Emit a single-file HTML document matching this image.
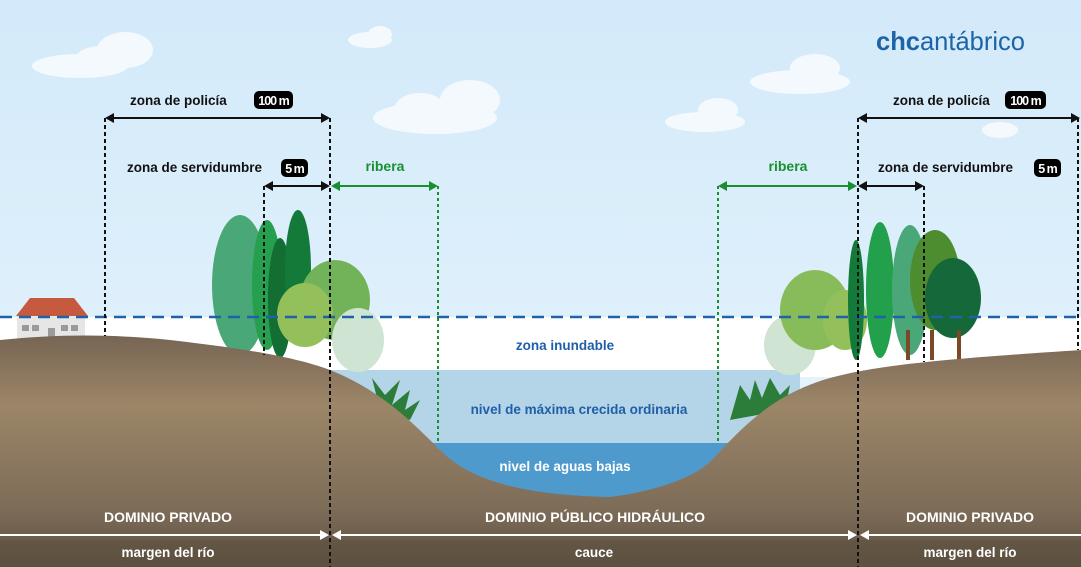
<!DOCTYPE html>
<html><head><meta charset="utf-8"><style>
html,body{margin:0;padding:0;width:1081px;height:567px;overflow:hidden;background:#fff}
svg text{font-family:"Liberation Sans",sans-serif;font-weight:bold}
</style></head><body>
<svg width="1081" height="567" viewBox="0 0 1081 567" xmlns="http://www.w3.org/2000/svg">
<defs>
<linearGradient id="sky" x1="0" y1="0" x2="0" y2="1">
<stop offset="0" stop-color="#d3eafa"/><stop offset="0.6" stop-color="#dff0fb"/><stop offset="1" stop-color="#ffffff"/></linearGradient>
<linearGradient id="soil" x1="0" y1="0" x2="0" y2="1">
<stop offset="0" stop-color="#776554"/><stop offset="0.3" stop-color="#9c8668"/><stop offset="0.75" stop-color="#7d6c58"/><stop offset="1" stop-color="#5c4f40"/></linearGradient>
</defs>
<rect x="0" y="0" width="1081" height="567" fill="url(#sky)"/>
<rect x="0" y="317" width="1081" height="60" fill="#ffffff"/>
<g fill="#f4f9fd">
<ellipse cx="80" cy="66" rx="48" ry="12"/><ellipse cx="125" cy="50" rx="28" ry="18"/><ellipse cx="100" cy="60" rx="25" ry="14"/>
<ellipse cx="370" cy="40" rx="22" ry="8"/><ellipse cx="380" cy="34" rx="12" ry="8"/>
<ellipse cx="435" cy="118" rx="62" ry="16"/><ellipse cx="470" cy="100" rx="30" ry="20"/><ellipse cx="420" cy="108" rx="25" ry="15"/>
<ellipse cx="705" cy="122" rx="40" ry="10"/><ellipse cx="718" cy="110" rx="20" ry="12"/>
<ellipse cx="800" cy="82" rx="50" ry="12"/><ellipse cx="815" cy="68" rx="25" ry="14"/>
<ellipse cx="1000" cy="130" rx="18" ry="8"/>
</g>
<rect x="330" y="370" width="470" height="74" fill="#b4d4e8"/>
<rect x="400" y="443" width="340" height="70" fill="#4f9acd"/>
<polygon points="16,316 30,298 74,298 88,316" fill="#c65a3e"/>
<rect x="17" y="316" width="68" height="24" fill="#e6e6e6"/>
<g fill="#9a9a9a"><rect x="22" y="325" width="7" height="6"/><rect x="32" y="325" width="7" height="6"/><rect x="48" y="328" width="7" height="12"/><rect x="61" y="325" width="7" height="6"/><rect x="71" y="325" width="7" height="6"/></g>
<ellipse cx="240" cy="285" rx="28" ry="70" fill="#4aa878"/>
<ellipse cx="267" cy="285" rx="15" ry="65" fill="#26a04e"/>
<ellipse cx="280" cy="298" rx="12" ry="60" fill="#136e33"/>
<ellipse cx="298" cy="270" rx="13" ry="60" fill="#137a3a"/>
<ellipse cx="335" cy="300" rx="35" ry="40" fill="#72b35a"/>
<ellipse cx="305" cy="315" rx="28" ry="32" fill="#93c05a"/>
<ellipse cx="358" cy="340" rx="26" ry="32" fill="#cfe4d3"/>
<path d="M372 378 L385 395 L400 380 L392 405 L410 390 L405 410 L420 400 L410 420 L380 410Z" fill="#2d7d3a"/>
<ellipse cx="790" cy="345" rx="26" ry="30" fill="#cfe4d3"/>
<ellipse cx="815" cy="310" rx="35" ry="40" fill="#88bb5a"/>
<ellipse cx="845" cy="320" rx="22" ry="30" fill="#93c05a"/>
<ellipse cx="856" cy="300" rx="8" ry="60" fill="#137a3a"/>
<ellipse cx="880" cy="290" rx="14" ry="68" fill="#22a04c"/>
<ellipse cx="910" cy="290" rx="18" ry="65" fill="#4aa878"/>
<ellipse cx="935" cy="280" rx="25" ry="50" fill="#4d8c2f"/>
<ellipse cx="953" cy="298" rx="28" ry="40" fill="#15683a"/>
<rect x="906" y="330" width="4" height="30" fill="#7a4a28"/><rect x="930" y="330" width="4" height="30" fill="#7a4a28"/><rect x="957" y="330" width="4" height="30" fill="#7a4a28"/>
<path d="M730 420 L740 385 L750 400 L755 380 L762 398 L770 378 L780 395 L790 385 L785 410Z" fill="#2d7d3a"/>
<path d="M0 340 C60 334 110 334 170 340 C230 347 290 355 330 370 C380 390 410 420 440 450 C470 480 520 495 610 497 C650 492 690 480 710 462 C740 430 770 395 830 378 C880 364 960 358 1081 350 L1081 567 L0 567Z" fill="url(#soil)"/>
<rect x="0" y="540" width="1081" height="27" fill="#5e5141" opacity="0.6"/>
<line x1="0" y1="317" x2="1081" y2="317" stroke="#1f62a8" stroke-width="2.5" stroke-dasharray="12,7"/>
<g stroke="#111" stroke-width="2" stroke-dasharray="4,3">
<line x1="105" y1="118" x2="105" y2="336"/><line x1="264" y1="186" x2="264" y2="355"/>
<line x1="330" y1="118" x2="330" y2="567"/><line x1="858" y1="118" x2="858" y2="567"/>
<line x1="924" y1="186" x2="924" y2="362"/><line x1="1078" y1="118" x2="1078" y2="350"/>
</g>
<g stroke="#18902f" stroke-width="2" stroke-dasharray="3,3">
<line x1="438" y1="186" x2="438" y2="443"/><line x1="718" y1="186" x2="718" y2="443"/>
</g>
<g stroke="#111" stroke-width="2" fill="#111">
<line x1="112" y1="118" x2="323" y2="118"/><polygon points="105,118 114,113 114,123" stroke="none"/><polygon points="330,118 321,113 321,123" stroke="none"/>
<line x1="271" y1="186" x2="323" y2="186"/><polygon points="264,186 273,181 273,191" stroke="none"/><polygon points="330,186 321,181 321,191" stroke="none"/>
<line x1="865" y1="118" x2="1074" y2="118"/><polygon points="858,118 867,113 867,123" stroke="none"/><polygon points="1080,118 1071,113 1071,123" stroke="none"/>
<line x1="865" y1="186" x2="917" y2="186"/><polygon points="858,186 867,181 867,191" stroke="none"/><polygon points="924,186 915,181 915,191" stroke="none"/>
</g>
<g stroke="#18902f" stroke-width="2" fill="#18902f">
<line x1="337" y1="186" x2="431" y2="186"/><polygon points="331,186 340,181 340,191" stroke="none"/><polygon points="438,186 429,181 429,191" stroke="none"/>
<line x1="725" y1="186" x2="851" y2="186"/><polygon points="718,186 727,181 727,191" stroke="none"/><polygon points="857,186 848,181 848,191" stroke="none"/>
</g>
<g stroke="#fff" stroke-width="2" fill="#fff">
<line x1="0" y1="535" x2="322" y2="535"/><polygon points="329,535 320,530 320,540" stroke="none"/>
<line x1="339" y1="535" x2="850" y2="535"/><polygon points="332,535 341,530 341,540" stroke="none"/><polygon points="857,535 848,530 848,540" stroke="none"/>
<line x1="867" y1="535" x2="1081" y2="535"/><polygon points="860,535 869,530 869,540" stroke="none"/>
</g>
<g font-size="13.5" fill="#111">
<text x="130" y="105">zona de policía</text>
<text x="127" y="172">zona de servidumbre</text>
<text x="893" y="105">zona de policía</text>
<text x="878" y="172">zona de servidumbre</text>
</g>
<g fill="#000"><rect x="254" y="91" width="39" height="18" rx="5"/><rect x="281" y="159" width="27" height="18" rx="5"/>
<rect x="1005" y="91" width="41" height="18" rx="5"/><rect x="1034" y="159" width="27" height="18" rx="5"/></g>
<g fill="#fff" font-size="12.5" text-anchor="middle" letter-spacing="-1">
<text x="273.5" y="105">100 m</text><text x="294.5" y="173">5 m</text>
<text x="1025.5" y="105">100 m</text><text x="1047.5" y="173">5 m</text></g>
<g fill="#18902f" font-size="14" text-anchor="middle"><text x="385" y="171">ribera</text><text x="788" y="171">ribera</text></g>
<g fill="#1f5fa8" font-size="13.5" text-anchor="middle">
<text x="565" y="350">zona inundable</text><text x="579" y="414">nivel de máxima crecida ordinaria</text></g>
<text x="565" y="471" fill="#fff" font-size="13.5" text-anchor="middle">nivel de aguas bajas</text>
<g fill="#fff" font-size="14" text-anchor="middle">
<text x="168" y="522">DOMINIO PRIVADO</text><text x="595" y="522">DOMINIO PÚBLICO HIDRÁULICO</text><text x="970" y="522">DOMINIO PRIVADO</text>
<text x="168" y="557" font-size="13.5">margen del río</text><text x="594" y="557" font-size="13.5">cauce</text><text x="970" y="557" font-size="13.5">margen del río</text></g>
<text x="876" y="50" font-size="26" fill="#1e63a8" textLength="149" lengthAdjust="spacingAndGlyphs" style="font-weight:normal"><tspan font-weight="bold">chc</tspan>antábrico</text>
</svg>
</body></html>
